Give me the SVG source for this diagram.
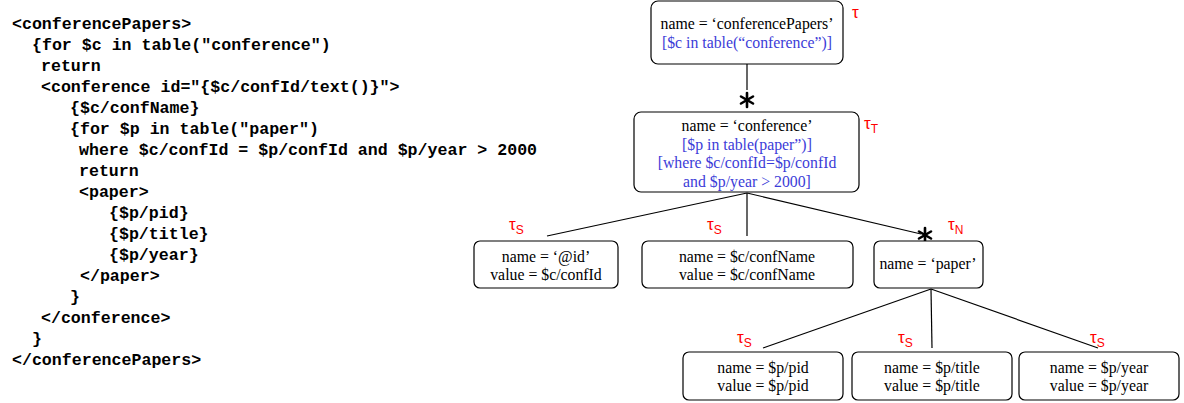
<svg xmlns="http://www.w3.org/2000/svg" width="1184" height="403" viewBox="0 0 1184 403">
<style>
.code{font-family:"Liberation Mono","DejaVu Sans Mono",monospace;font-size:16.6px;font-weight:bold;fill:#000}
.box{fill:#fff;stroke:#000;stroke-width:1.2}
.t{font-family:"Liberation Serif","Times New Roman",serif;font-size:15.8px;fill:#000;text-anchor:middle}
.b{fill:#3c3cd8}
.tau{font-family:"Liberation Sans",Arial,sans-serif;font-size:17px;fill:#ff0000}
.sub{font-size:12px}
.edge{stroke:#000;stroke-width:1.2;fill:none}
.ast{stroke:#000;stroke-width:2.6;stroke-linecap:round;fill:none}
</style>
<rect width="1184" height="403" fill="#fff"/>
<g id="code" class="code">
<text x="12" y="29">&lt;conferencePapers&gt;</text>
<text x="32" y="50">{for $c in table("conference")</text>
<text x="41" y="71">return</text>
<text x="41" y="92">&lt;conference id="{$c/confId/text()}"&gt;</text>
<text x="70" y="113">{$c/confName}</text>
<text x="70" y="134">{for $p in table("paper")</text>
<text x="79" y="155">where $c/confId = $p/confId and $p/year &gt; 2000</text>
<text x="79" y="176">return</text>
<text x="79" y="197">&lt;paper&gt;</text>
<text x="109" y="218">{$p/pid}</text>
<text x="109" y="239">{$p/title}</text>
<text x="109" y="260">{$p/year}</text>
<text x="80" y="281">&lt;/paper&gt;</text>
<text x="70" y="302">}</text>
<text x="41" y="323">&lt;/conference&gt;</text>
<text x="32" y="344">}</text>
<text x="12" y="365">&lt;/conferencePapers&gt;</text>
</g>
<g id="connectors">
<line class="edge" x1="747" y1="64" x2="747" y2="90"/>
<line class="edge" x1="747" y1="193" x2="547" y2="236"/>
<line class="edge" x1="747" y1="193" x2="747" y2="236"/>
<line class="edge" x1="747" y1="193" x2="921" y2="234"/>
<line class="edge" x1="931" y1="289" x2="763" y2="348"/>
<line class="edge" x1="931" y1="289" x2="932" y2="348"/>
<line class="edge" x1="931" y1="289" x2="1098" y2="348"/>
<g class="ast" transform="translate(747,100)">
<line x1="0" y1="-7" x2="0" y2="7"/>
<line x1="-6" y1="-3.5" x2="6" y2="3.5"/>
<line x1="-6" y1="3.5" x2="6" y2="-3.5"/>
</g>
<g class="ast" transform="translate(925,235)">
<line x1="0" y1="-7" x2="0" y2="7"/>
<line x1="-6" y1="-3.5" x2="6" y2="3.5"/>
<line x1="-6" y1="3.5" x2="6" y2="-3.5"/>
</g>
</g>
<g id="n-conferencePapers">
<rect class="box" x="651" y="1" width="192" height="63" rx="7"/>
<text class="t" x="747" y="29">name = ‘conferencePapers’</text>
<text class="t b" x="747" y="48">[$c in table(“conference”)]</text>
<text class="tau" x="852" y="18">τ</text>
</g>
<g id="n-conference">
<rect class="box" x="634" y="112" width="225" height="80" rx="7"/>
<text class="t" x="747" y="131">name = ‘conference’</text>
<text class="t b" x="747" y="150">[$p in table(paper”)]</text>
<text class="t b" x="747" y="168">[where $c/confId=$p/confId</text>
<text class="t b" x="747" y="187">and $p/year &gt; 2000]</text>
<text class="tau" x="864" y="129">τ<tspan class="sub" dy="4">T</tspan></text>
</g>
<g id="n-id">
<rect class="box" x="474" y="241" width="144" height="47" rx="6"/>
<text class="t" x="546" y="262">name = ‘@id’</text>
<text class="t" x="546" y="280">value = $c/confId</text>
<text class="tau" x="509" y="230">τ<tspan class="sub" dy="4">S</tspan></text>
</g>
<g id="n-confName">
<rect class="box" x="642" y="241" width="211" height="47" rx="6"/>
<text class="t" x="747" y="262">name = $c/confName</text>
<text class="t" x="747" y="280">value = $c/confName</text>
<text class="tau" x="707" y="230">τ<tspan class="sub" dy="4">S</tspan></text>
</g>
<g id="n-paper">
<rect class="box" x="874" y="241" width="109" height="47" rx="6"/>
<text class="t" x="928" y="269">name = ‘paper’</text>
<text class="tau" x="948" y="230">τ<tspan class="sub" dy="4">N</tspan></text>
</g>
<g id="n-pid">
<rect class="box" x="683" y="352" width="160" height="48" rx="6"/>
<text class="t" x="763" y="373">name = $p/pid</text>
<text class="t" x="763" y="391">value = $p/pid</text>
<text class="tau" x="737" y="343">τ<tspan class="sub" dy="4">S</tspan></text>
</g>
<g id="n-title">
<rect class="box" x="852" y="352" width="160" height="48" rx="6"/>
<text class="t" x="932" y="373">name = $p/title</text>
<text class="t" x="932" y="391">value = $p/title</text>
<text class="tau" x="898" y="343">τ<tspan class="sub" dy="4">S</tspan></text>
</g>
<g id="n-year">
<rect class="box" x="1019" y="352" width="160" height="48" rx="6"/>
<text class="t" x="1099" y="373">name = $p/year</text>
<text class="t" x="1099" y="391">value = $p/year</text>
<text class="tau" x="1090" y="343">τ<tspan class="sub" dy="4">S</tspan></text>
</g>
</svg>
